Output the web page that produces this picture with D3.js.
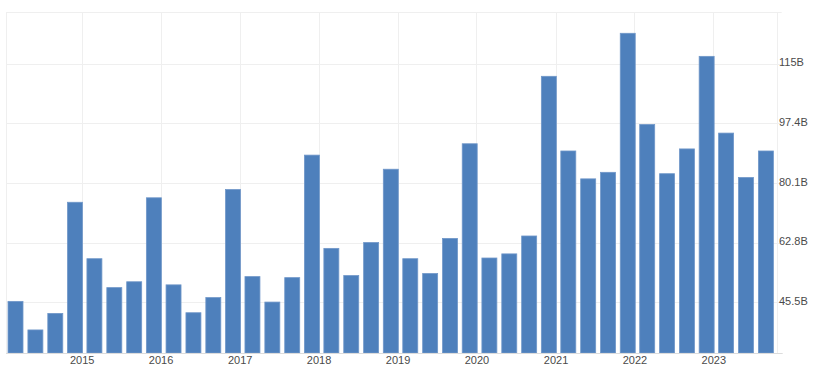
<!DOCTYPE html>
<html>
<head>
<meta charset="utf-8">
<script src="https://cdn.jsdelivr.net/npm/d3@7"></script>
<style>
  html, body { margin: 0; padding: 0; background: #ffffff; }
  svg { display: block; }
</style>
</head>
<body>
<svg id="chart" width="822" height="379"></svg>
<script>
// ---- data ----
const quarters = [
  "2014Q1","2014Q2","2014Q3","2014Q4",
  "2015Q1","2015Q2","2015Q3","2015Q4",
  "2016Q1","2016Q2","2016Q3","2016Q4",
  "2017Q1","2017Q2","2017Q3","2017Q4",
  "2018Q1","2018Q2","2018Q3","2018Q4",
  "2019Q1","2019Q2","2019Q3","2019Q4",
  "2020Q1","2020Q2","2020Q3","2020Q4",
  "2021Q1","2021Q2","2021Q3","2021Q4",
  "2022Q1","2022Q2","2022Q3","2022Q4",
  "2023Q1","2023Q2","2023Q3"
];
const values = [
  45.7, 37.4, 42.2, 74.5,
  58.1, 49.7, 51.4, 75.8,
  50.5, 42.4, 46.8, 78.2,
  52.9, 45.5, 52.6, 88.2,
  61.1, 53.2, 62.8, 84.1,
  58.1, 53.8, 64.0, 91.5,
  58.3, 59.5, 64.7, 111.1,
  89.4, 81.3, 83.2, 123.6,
  97.1, 82.8, 90.0, 116.9,
  94.6, 81.7, 89.4
];
const yTickValues = [45.5, 62.8, 80.1, 97.4, 114.7];
const yTickLabels = ["45.5B", "62.8B", "80.1B", "97.4B", "115B"];
const xTickYears = [2015, 2016, 2017, 2018, 2019, 2020, 2021, 2022, 2023];

// ---- layout ----
const plot = { left: 6, right: 776.7, top: 12.3, bottom: 353 };
const svg = d3.select("#chart");

// bars sit at the first day of the last month of each quarter
const qDate = q => new Date(Date.UTC(+q.slice(0, 4), (+q.slice(5)) * 3 - 1, 1));

const x = d3.scaleUtc()
  .domain([new Date(Date.UTC(2014, 0, 16)), new Date(Date.UTC(2023, 9, 21))])
  .range([plot.left, plot.right]);

const y = d3.scaleLinear()
  .domain([30.7, 129.7])
  .range([plot.bottom, plot.top]);

const quarterWidth = x(new Date(Date.UTC(2015, 3, 1))) - x(new Date(Date.UTC(2015, 0, 1)));
const barW = quarterWidth * 0.77;

const gridColor = "#efefef";

// horizontal grid
const yAxis = d3.axisRight(y)
  .tickValues(yTickValues)
  .tickSize(0)
  .tickFormat((d, i) => yTickLabels[i]);

svg.append("g")
  .attr("class", "hgrid")
  .selectAll("line")
  .data(yTickValues.concat([y.domain()[1]]))
  .join("line")
  .attr("x1", plot.left).attr("x2", plot.right + 5)
  .attr("y1", d => Math.round(y(d)) + 0.5).attr("y2", d => Math.round(y(d)) + 0.5)
  .attr("stroke", gridColor).attr("stroke-width", 1);

// vertical grid (years + borders)
svg.append("g")
  .attr("class", "vgrid")
  .selectAll("line")
  .data(xTickYears.map(yr => new Date(Date.UTC(yr, 0, 1))).concat(x.domain()))
  .join("line")
  .attr("x1", d => Math.round(x(d)) + 0.5).attr("x2", d => Math.round(x(d)) + 0.5)
  .attr("y1", plot.top).attr("y2", plot.bottom)
  .attr("stroke", gridColor).attr("stroke-width", 1);

// bars
svg.append("g")
  .attr("class", "bars")
  .selectAll("rect")
  .data(quarters.map((q, i) => ({ q, v: values[i] })))
  .join("rect")
  .attr("x", d => x(qDate(d.q)) - barW / 2)
  .attr("width", barW)
  .attr("y", d => y(d.v))
  .attr("height", d => plot.bottom - y(d.v))
  .attr("fill", "#4e80bc")
  .attr("stroke", "#7097c9")
  .attr("stroke-width", 0.8);

// bottom axis line
svg.append("line")
  .attr("x1", plot.left).attr("x2", plot.right + 6)
  .attr("y1", plot.bottom + 0.5).attr("y2", plot.bottom + 0.5)
  .attr("stroke", "#dcdcdc").attr("stroke-width", 1);

// y axis labels (right)
const gy = svg.append("g")
  .attr("transform", `translate(${plot.right - 1},0)`)
  .call(yAxis);
gy.select(".domain").remove();
gy.selectAll("text")
  .attr("x", 3.3)
  .attr("dy", "0.32em")
  .attr("transform", "translate(0,-1.5)")
  .attr("fill", "#4a4a4a")
  .style("font-family", "Arial, 'Liberation Sans', sans-serif")
  .style("font-size", "11px");

// x axis labels
const xAxis = d3.axisBottom(x)
  .tickValues(xTickYears.map(yr => new Date(Date.UTC(yr, 0, 1))))
  .tickSize(0)
  .tickFormat(d3.utcFormat("%Y"));
const gx = svg.append("g")
  .attr("transform", `translate(0,${plot.bottom})`)
  .call(xAxis);
gx.select(".domain").remove();
gx.selectAll("text")
  .attr("y", 3)
  .attr("fill", "#4a4a4a")
  .style("font-family", "Arial, 'Liberation Sans', sans-serif")
  .style("font-size", "11px");
</script>
</body>
</html>
